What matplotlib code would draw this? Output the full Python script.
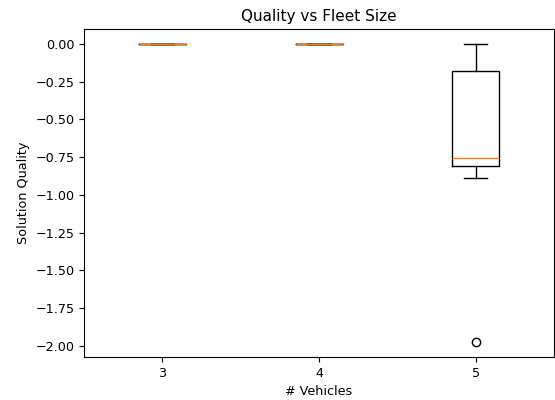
import matplotlib
matplotlib.use("Agg")
import matplotlib.pyplot as plt

categories = ["3", "4", "5"]
quality_3 = [0.0, 0.0, 0.0, 0.0, 0.0, 0.0, 0.0, 0.0, 0.0]
quality_4 = [0.0, 0.0, 0.0, 0.0, 0.0, 0.0, 0.0, 0.0, 0.0]
quality_5 = [0.0, -0.05, -0.18, -0.42, -0.755, -0.78, -0.806, -0.885, -1.975]

fig = plt.figure(figsize=(5.55, 4.0), dpi=100)
ax = fig.add_axes([84 / 555, 43 / 400, 470 / 555, 328 / 400])
ax.boxplot([quality_3, quality_4, quality_5])
ax.set_xticks([1, 2, 3])
ax.set_xticklabels(categories)
ax.tick_params(labelsize=9.2)
ax.set_title("Quality vs Fleet Size", fontsize=11)
ax.set_xlabel("# Vehicles", fontsize=9.2)
ax.set_ylabel("Solution Quality", fontsize=9.2)
fig.savefig("out.png", dpi=100)
